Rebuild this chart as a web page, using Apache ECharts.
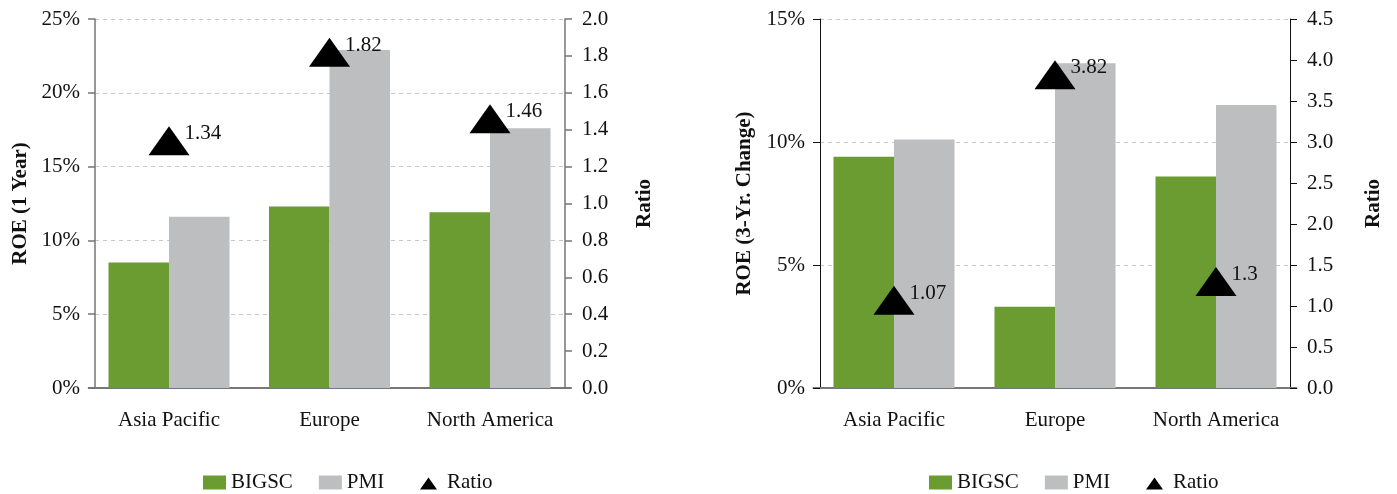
<!DOCTYPE html>
<html>
<head>
<meta charset="utf-8">
<script src="https://cdn.jsdelivr.net/npm/echarts@6/dist/echarts.min.js"></script>
<style>
  html, body { margin: 0; padding: 0; background: #fff; }
  #chart { width: 1397px; height: 494px; }
</style>
</head>
<body>
<div id="chart"></div>
<script>
// Regions shown on both panels
const regions = ['Asia Pacific', 'Europe', 'North America'];

// Panel 1: ROE over one year (%), and the PMI / BIGSC ratio
const roe1yBigsc = [8.5, 12.3, 11.9];
const roe1yPmi = [11.6, 22.9, 17.6];
const roe1yRatio = [1.34, 1.82, 1.46];

// Panel 2: three-year change in ROE (%), and the ratio
const roe3yBigsc = [9.4, 3.3, 8.6];
const roe3yPmi = [10.1, 13.2, 11.5];
const roe3yRatio = [1.07, 3.82, 1.3];

const seriesNames = ['BIGSC', 'PMI', 'Ratio'];

const FONT = '"Liberation Serif", "Times New Roman", Times, serif';
const GREEN = '#6a9c31';
const GREY = '#bdbec0';
const TEXT = '#111';
// Small triangle padded inside the 23x14 legend icon box
const LEGEND_TRIANGLE = 'path://M0,0M23,14M1,14L9.5,2L18,14Z';

const panels = [
  {
    bigsc: roe1yBigsc, pmi: roe1yPmi, ratio: roe1yRatio,
    title: 'ROE (1 Year)', pctMax: 25, pctStep: 5, ratioMax: 2, ratioStep: 0.2,
    barGrid: { left: 88.75, width: 481.5 }, frame: { left: 95, width: 470 },
    axisColor: '#767676', axisWidth: 1.5, nameGapL: 64, nameGapR: 69,
    legendLeft: 203, ratioLegendLeft: 419
  },
  {
    bigsc: roe3yBigsc, pmi: roe3yPmi, ratio: roe3yRatio,
    title: 'ROE (3-Yr. Change)', pctMax: 15, pctStep: 5, ratioMax: 4.5, ratioStep: 0.5,
    barGrid: { left: 813.5, width: 483 }, frame: { left: 820, width: 470 },
    axisColor: '#111', axisWidth: 1, nameGapL: 65, nameGapR: 73,
    legendLeft: 929, ratioLegendLeft: 1145
  }
];

const TOP = 19, HEIGHT = 369;
const grid = [], xAxis = [], yAxis = [], series = [], legend = [];

const legendBase = {
  top: 472, orient: 'horizontal', selectedMode: false, padding: 0,
  itemWidth: 23, itemHeight: 14, itemGap: 26,
  textStyle: { fontFamily: FONT, fontSize: 21, color: TEXT }
};

panels.forEach((p, i) => {
  const gBar = 2 * i, gFrame = 2 * i + 1;
  grid.push({ left: p.barGrid.left, width: p.barGrid.width, top: TOP, height: HEIGHT });
  grid.push({ left: p.frame.left, width: p.frame.width, top: TOP, height: HEIGHT });

  // category axis carrying the bars
  xAxis.push({
    type: 'category', gridIndex: gBar, data: regions,
    axisLine: { show: true, lineStyle: { color: '#777', width: 2 } },
    axisTick: { show: false },
    axisLabel: { interval: 0, fontFamily: FONT, fontSize: 21, color: TEXT, margin: 22 }
  });
  // hidden category axis for the frame grid
  xAxis.push({ type: 'category', gridIndex: gFrame, data: regions, show: false });

  const yBase = 4 * i;
  // hidden scales for the plotted marks
  yAxis.push({ type: 'value', gridIndex: gBar, min: 0, max: p.pctMax, interval: p.pctStep, show: false, splitLine: { show: false } });
  yAxis.push({ type: 'value', gridIndex: gBar, min: 0, max: p.ratioMax, interval: p.ratioStep, show: false, splitLine: { show: false } });

  const lineStyle = { color: p.axisColor, width: p.axisWidth };
  const nameStyle = { fontFamily: FONT, fontSize: 21, fontWeight: 'bold', color: TEXT };
  // visible percentage axis (left)
  yAxis.push({
    type: 'value', gridIndex: gFrame, position: 'left', min: 0, max: p.pctMax, interval: p.pctStep,
    name: p.title, nameLocation: 'middle', nameRotate: 90, nameGap: p.nameGapL, nameTextStyle: nameStyle,
    axisLine: { show: true, lineStyle },
    axisTick: { show: true, inside: false, length: 7, lineStyle },
    axisLabel: { fontFamily: FONT, fontSize: 21, color: TEXT, margin: 15, formatter: v => v + '%' },
    splitLine: { show: true, lineStyle: { color: '#c6c6c6', width: 1, type: [4, 4] } }
  });
  // visible ratio axis (right)
  yAxis.push({
    type: 'value', gridIndex: gFrame, position: 'right', min: 0, max: p.ratioMax, interval: p.ratioStep,
    name: 'Ratio', nameLocation: 'middle', nameRotate: 90, nameGap: p.nameGapR, nameTextStyle: nameStyle,
    axisLine: { show: true, lineStyle },
    axisTick: { show: true, inside: false, length: 7, lineStyle },
    axisLabel: { fontFamily: FONT, fontSize: 21, color: TEXT, margin: 17, formatter: v => v.toFixed(1) },
    splitLine: { show: false }
  });

  series.push({
    name: seriesNames[0], type: 'bar', xAxisIndex: gBar, yAxisIndex: yBase,
    data: p.bigsc, barWidth: 60.5, barGap: '0%', itemStyle: { color: GREEN }, z: 3
  });
  series.push({
    name: seriesNames[1], type: 'bar', xAxisIndex: gBar, yAxisIndex: yBase,
    data: p.pmi, barWidth: 60.5, barGap: '0%', itemStyle: { color: GREY }, z: 3
  });
  series.push({
    name: seriesNames[2], type: 'scatter', xAxisIndex: gBar, yAxisIndex: yBase + 1,
    data: p.ratio, symbol: 'triangle', symbolSize: [41, 29],
    itemStyle: { color: '#000', opacity: 1 }, z: 5,
    emphasis: { disabled: true },
    label: {
      show: true, position: 'right', distance: 0, offset: [-5, -7], formatter: '{c}',
      fontFamily: FONT, fontSize: 21, color: TEXT
    }
  });

  // bar legend
  legend.push(Object.assign({}, legendBase, {
    left: p.legendLeft,
    data: [
      { name: seriesNames[0], icon: 'rect' },
      { name: seriesNames[1], icon: 'rect' }
    ]
  }));
  // ratio legend
  legend.push(Object.assign({}, legendBase, {
    left: p.ratioLegendLeft,
    data: [
      { name: seriesNames[2], icon: LEGEND_TRIANGLE, itemStyle: { color: '#000', opacity: 1 } }
    ]
  }));
});

const chart = echarts.init(document.getElementById('chart'), null, { renderer: 'canvas' });
chart.setOption({
  animation: false,
  backgroundColor: '#fff',
  grid, xAxis, yAxis, series, legend
});
</script>
</body>
</html>
